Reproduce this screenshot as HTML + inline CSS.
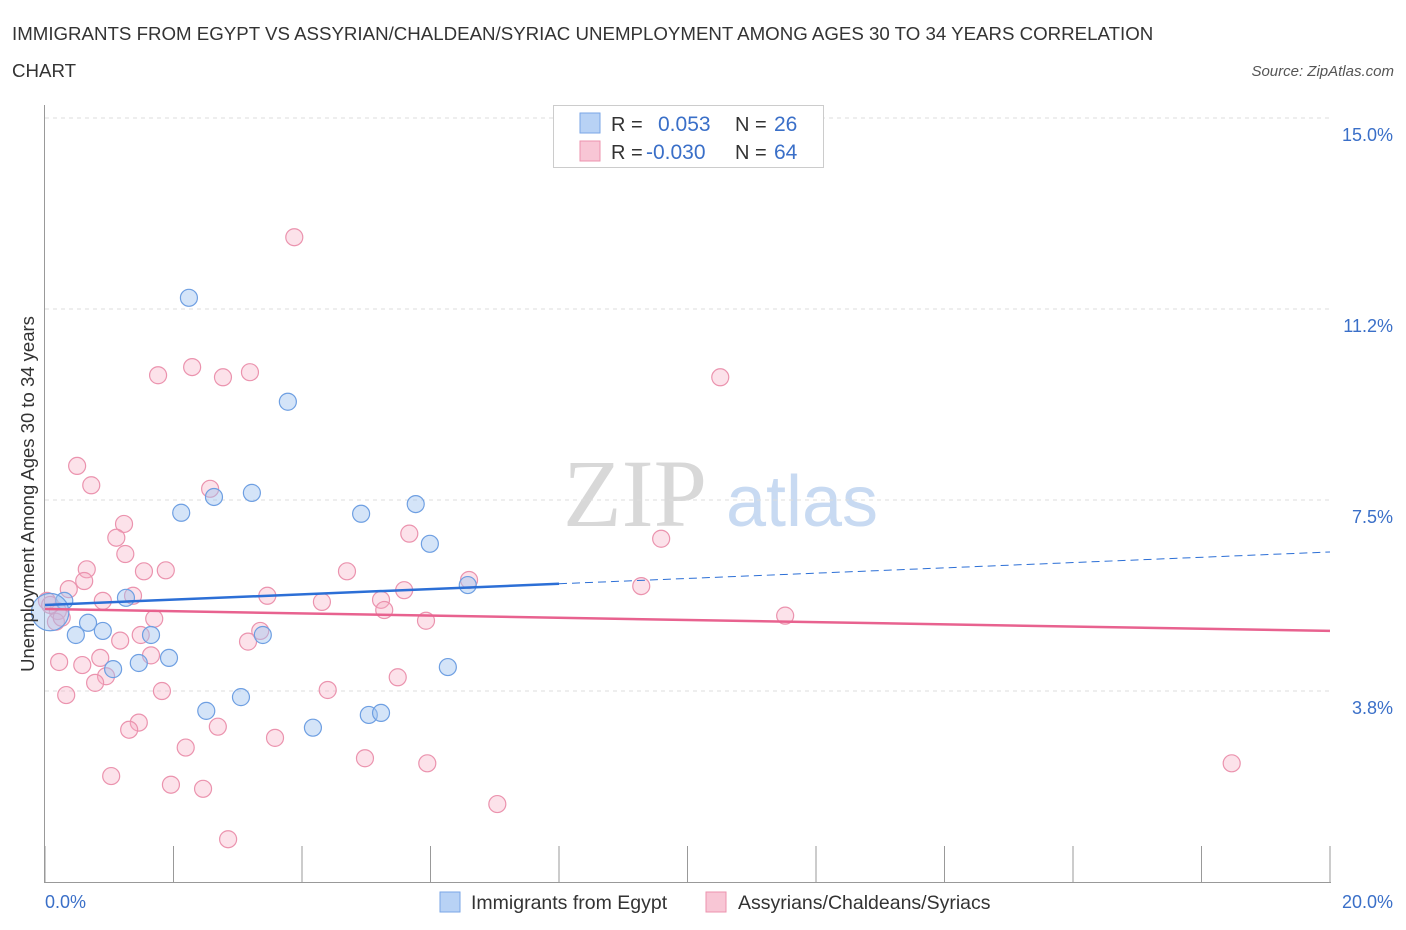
<!DOCTYPE html>
<html><head><meta charset="utf-8"><style>
body{margin:0;background:#fff;font-family:"Liberation Sans",sans-serif;}
svg{display:block}
</style></head><body>
<svg id="chart" width="1406" height="930" xmlns="http://www.w3.org/2000/svg">
<text x="12" y="40" font-size="18.7" fill="#333">IMMIGRANTS FROM EGYPT VS ASSYRIAN/CHALDEAN/SYRIAC UNEMPLOYMENT AMONG AGES 30 TO 34 YEARS CORRELATION</text>
<text x="12" y="77" font-size="18.7" fill="#333">CHART</text>
<text x="1394" y="76" font-size="15" fill="#555" font-style="italic" text-anchor="end">Source: ZipAtlas.com</text>
<g>
<text x="635" y="526" font-size="96" fill="#d8d8d8" font-family="Liberation Serif,serif" text-anchor="middle">ZIP</text>
<text x="802" y="526" font-size="72" fill="#c8daf2" text-anchor="middle">atlas</text>
</g>
<g id="grid"></g>
<g id="axes"></g>
<g id="marks"></g>
<text transform="translate(34,494) rotate(-90)" font-size="18.5" fill="#333" text-anchor="middle">Unemployment Among Ages 30 to 34 years</text>
<g>
<rect x="553.5" y="105.5" width="270" height="62" fill="#fff" stroke="#ccc"/>
<rect x="580" y="113" width="20" height="20" fill="#b8d2f5" stroke="#7aa6e6"/>
<rect x="580" y="141" width="20" height="20" fill="#f8c6d5" stroke="#ec93ae"/>
<text x="611" y="131" font-size="20" fill="#333">R =</text>
<text x="658" y="131" font-size="21" fill="#3a6fc8">0.053</text>
<text x="735" y="131" font-size="20" fill="#333">N =</text>
<text x="774" y="131" font-size="21" fill="#3a6fc8">26</text>
<text x="611" y="159" font-size="20" fill="#333">R =</text>
<text x="646" y="159" font-size="21" fill="#3a6fc8">-0.030</text>
<text x="735" y="159" font-size="20" fill="#333">N =</text>
<text x="774" y="159" font-size="21" fill="#3a6fc8">64</text>
</g>
<g>
<rect x="440" y="892" width="20" height="20" fill="#b8d2f5" stroke="#7aa6e6"/>
<text x="471" y="909" font-size="19.5" fill="#333">Immigrants from Egypt</text>
<rect x="706" y="892" width="20" height="20" fill="#f8c6d5" stroke="#ec93ae"/>
<text x="738" y="909" font-size="19.5" fill="#333">Assyrians/Chaldeans/Syriacs</text>
</g>
</svg>
<script>
const blueX=[2.24,3.78,2.12,2.63,3.22,4.92,5.77,5.99,6.58,1.26,0.30,0.67,0.48,0.90,1.65,3.39,1.93,1.46,1.06,6.27,3.05,2.51,5.04,5.23,4.17,0.08];
const blueY=[11.47,9.43,7.25,7.56,7.64,7.23,7.42,6.64,5.83,5.58,5.52,5.09,4.85,4.93,4.85,4.85,4.40,4.30,4.18,4.22,3.63,3.36,3.28,3.32,3.03,5.30];
const blueSize=[1,1,1,1,1,1,1,1,1,1,1,1,1,1,1,1,1,1,1,1,1,1,1,1,1,2.2];
const pinkX=[3.88,1.76,2.29,2.77,3.19,10.51,0.50,0.72,2.57,1.23,5.67,9.59,1.11,1.25,0.65,1.54,1.88,4.70,0.37,0.61,6.60,9.28,5.59,3.46,0.90,1.37,4.31,5.23,5.28,1.70,5.93,11.52,0.20,0.03,0.17,0.26,3.35,1.49,1.17,3.16,1.65,0.86,0.22,0.58,0.95,0.78,1.82,4.40,0.33,5.49,1.46,1.31,2.69,3.58,2.19,4.98,5.95,18.47,1.03,1.96,2.46,7.04,2.85,0.08];
const pinkY=[12.66,9.95,10.11,9.91,10.01,9.91,8.17,7.79,7.72,7.03,6.84,6.74,6.76,6.44,6.14,6.10,6.12,6.10,5.75,5.91,5.93,5.81,5.73,5.62,5.52,5.62,5.50,5.54,5.34,5.17,5.13,5.23,5.32,5.52,5.11,5.19,4.93,4.85,4.74,4.72,4.45,4.40,4.32,4.26,4.04,3.91,3.75,3.77,3.67,4.02,3.13,2.99,3.05,2.83,2.64,2.43,2.33,2.33,2.08,1.91,1.83,1.53,0.84,5.44];
const blueTrend=[5.44,6.48];
const pinkTrend=[5.36,4.93];
const blueSolidEnd=8;
const yTicks=[3.75,7.5,11.25,15];
const yTickLabels=["3.8%","7.5%","11.2%","15.0%"];
const xTicks=[0,2,4,6,8,10,12,14,16,18,20];
const NS="http://www.w3.org/2000/svg";
const sx=v=>45+v*64.25;
const sy=v=>882-v*50.93;
function mk(tag,attrs,parent){const e=document.createElementNS(NS,tag);for(const k in attrs)e.setAttribute(k,attrs[k]);parent.appendChild(e);return e;}
const grid=document.getElementById('grid'),axes=document.getElementById('axes'),marks=document.getElementById('marks');
yTicks.forEach((t,i)=>{
 const l=mk('line',{x1:45,x2:1330,y1:sy(t),y2:sy(t),stroke:'#ddd','stroke-dasharray':'4,4'},grid);
 
 
 const tx=mk('text',{x:1393,y:sy(t)+23,'font-size':18,fill:'#3a6fc8','text-anchor':'end'},axes);
 tx.textContent=yTickLabels[i];
 
 
});
const la=mk('line',{x1:44.5,x2:44.5,y1:105,y2:882,stroke:'#999'},axes);


const lb=mk('line',{x1:44,x2:1331,y1:882.5,y2:882.5,stroke:'#999'},axes);


xTicks.forEach(t=>{
 const l=mk('line',{x1:sx(t),x2:sx(t),y1:846,y2:882,stroke:'#999'},axes);
 
 
});
const x0=mk('text',{x:45,y:908,'font-size':18,fill:'#3a6fc8'},axes);x0.textContent=xTicks[0].toFixed(1)+'%';


const x1=mk('text',{x:1393,y:908,'font-size':18,fill:'#3a6fc8','text-anchor':'end'},axes);x1.textContent=xTicks[xTicks.length-1].toFixed(1)+'%';


pinkX.forEach((v,i)=>{
 const c=mk('circle',{cx:sx(v),cy:sy(pinkY[i]),r:8.5,fill:'rgba(246,172,196,0.35)',stroke:'#eb93ae','stroke-width':1.2},marks);
 
 
});
blueX.forEach((v,i)=>{
 const c=mk('circle',{cx:sx(v),cy:sy(blueY[i]),r:8.5*blueSize[i],fill:'rgba(160,196,240,0.45)',stroke:'#6e9fe2','stroke-width':1.2},marks);
 
 
});
const by=v=>blueTrend[0]+(blueTrend[1]-blueTrend[0])*v/20;
const t1=mk('line',{x1:sx(0),y1:sy(by(0)),x2:sx(blueSolidEnd),y2:sy(by(blueSolidEnd)),stroke:'#2c6fd6','stroke-width':2.5},marks);


const t2=mk('line',{x1:sx(blueSolidEnd),y1:sy(by(blueSolidEnd)),x2:sx(20),y2:sy(by(20)),stroke:'#2c6fd6','stroke-width':1,'stroke-dasharray':'8,5'},marks);


const t3=mk('line',{x1:sx(0),y1:sy(pinkTrend[0]),x2:sx(20),y2:sy(pinkTrend[1]),stroke:'#e8628f','stroke-width':2.5},marks);


</script>
</body></html>
